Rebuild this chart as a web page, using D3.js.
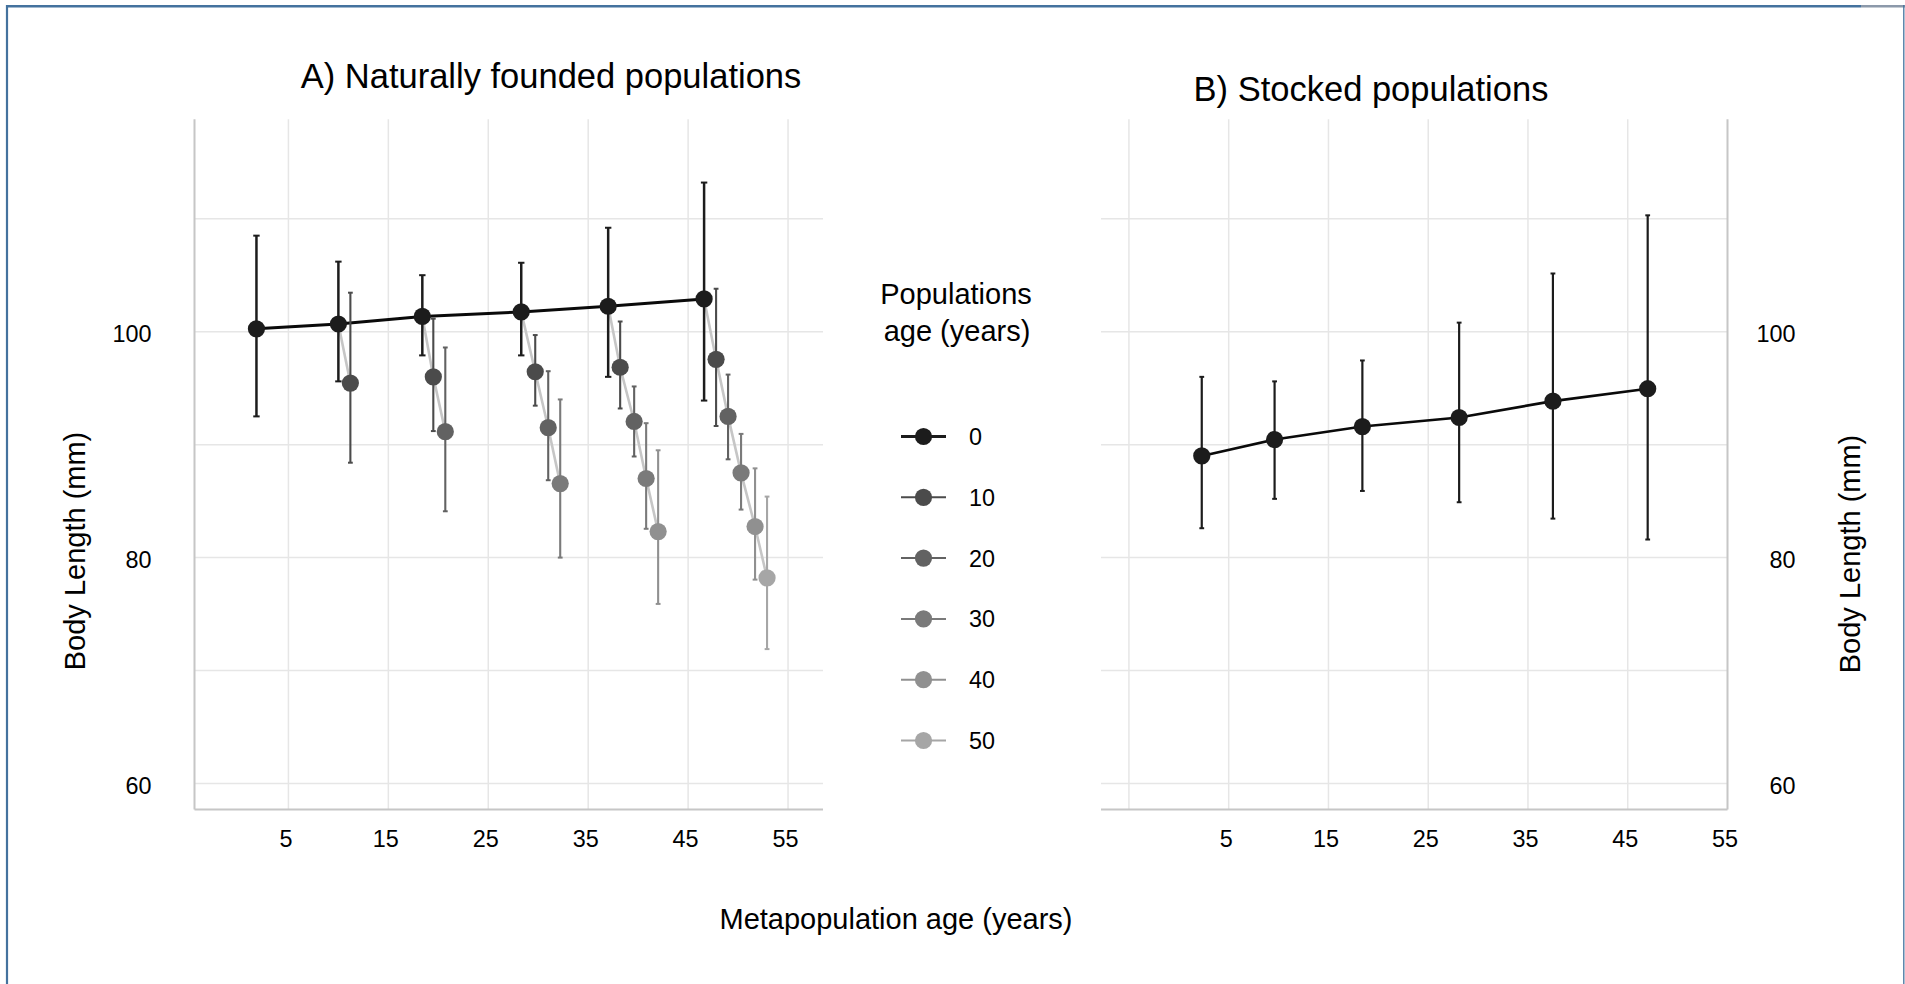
<!DOCTYPE html>
<html>
<head>
<meta charset="utf-8">
<script src="https://cdn.jsdelivr.net/npm/d3@7"></script>
<style>
  html, body { margin: 0; padding: 0; background: #ffffff; }
  svg { display: block; }
  text { font-family: "Liberation Sans", Arial, Helvetica, sans-serif; fill: #000; }
</style>
</head>
<body>
<svg id="chart" width="1905" height="984"></svg>
<script>
// ---- Data -------------------------------------------------------------
// Population age classes (legend) and their grey shades
const popAges = ["0", "10", "20", "30", "40", "50"];
const popColors = ["#1c1c1c", "#4b4b4b", "#626262", "#7a7a7a", "#909090", "#a6a6a6"];

// A) Naturally founded populations: one inner array per population age,
// ordered by metapopulation age group
const natX = [
  [1.8, 10.0, 18.4, 28.3, 37.0, 46.6],
  [11.2, 19.5, 29.7, 38.2, 47.8],
  [20.7, 31.0, 39.6, 49.0],
  [32.2, 40.8, 50.3],
  [42.0, 51.7],
  [52.9]
];
const natMean = [
  [100.25, 100.68, 101.35, 101.75, 102.25, 102.9],
  [95.45, 96.0, 96.45, 96.85, 97.55],
  [91.15, 91.5, 92.05, 92.5],
  [86.55, 87.0, 87.5],
  [82.3, 82.75],
  [78.2]
];
const natLow = [
  [92.5, 95.6, 97.9, 97.9, 96.0, 93.9],
  [88.4, 91.2, 93.45, 93.2, 91.65],
  [84.1, 86.85, 88.95, 88.7],
  [80.0, 82.55, 84.25],
  [75.9, 78.05],
  [71.9]
];
const natHigh = [
  [108.5, 106.2, 105.0, 106.1, 109.2, 113.2],
  [103.45, 101.15, 99.7, 100.9, 103.8],
  [98.6, 96.5, 95.15, 96.2],
  [94.0, 91.9, 90.95],
  [89.5, 87.9],
  [85.4]
];

// B) Stocked populations (population age 0 only)
const stockX = [2.3, 9.6, 18.4, 28.1, 37.5, 47.0];
const stockMean = [89.0, 90.45, 91.6, 92.4, 93.85, 94.95];
const stockLow = [82.6, 85.2, 85.9, 84.9, 83.45, 81.6];
const stockHigh = [96.0, 95.6, 97.45, 100.8, 105.15, 110.3];

// Axis ticks
const xTicks = [5, 15, 25, 35, 45, 55];
const xGridB = [-5, 5, 15, 25, 35, 45];
const yGrid = [60, 70, 80, 90, 100, 110];
const yTickLabels = [60, 80, 100];

// ---- Layout -----------------------------------------------------------
const svg = d3.select("#chart");
const FONT_TITLE = 34.5, FONT_AXIS = 29, FONT_TICK = 23.4;
const GRID = "#e6e6e6", AXIS = "#c6c6c6", CHAIN = "#c6c6c6";

const plotTop = 119.3, plotBottom = 809.5;
const y = d3.scaleLinear().domain([57.7, 118.8]).range([plotBottom, plotTop]);
const xA = d3.scaleLinear().domain([-4.4, 58.5]).range([194.5, 823]);
const xB = d3.scaleLinear().domain([-7.8, 55]).range([1101, 1727.5]);

// Frame around the figure
const frame = svg.append("g");
frame.append("line").attr("x1", 6).attr("x2", 1861).attr("y1", 6.2).attr("y2", 6.2)
  .attr("stroke", "#44729e").attr("stroke-width", 2.6);
frame.append("line").attr("x1", 1861).attr("x2", 1905).attr("y1", 6.2).attr("y2", 6.2)
  .attr("stroke", "#8c99aa").attr("stroke-width", 2.6);
frame.append("line").attr("x1", 7).attr("x2", 7).attr("y1", 5).attr("y2", 984)
  .attr("stroke", "#44729e").attr("stroke-width", 2.2);
frame.append("line").attr("x1", 1903.8).attr("x2", 1903.8).attr("y1", 5).attr("y2", 984)
  .attr("stroke", "#44729e").attr("stroke-width", 1.3);

// Gridlines for a panel
function drawGrid(x, xGridVals) {
  const g = svg.append("g");
  const [x0, x1] = x.range();
  g.selectAll("line.h").data(yGrid).join("line")
    .attr("x1", x0).attr("x2", x1)
    .attr("y1", d => y(d)).attr("y2", d => y(d))
    .attr("stroke", GRID).attr("stroke-width", 1.5);
  g.selectAll("line.v").data(xGridVals).join("line")
    .attr("x1", d => x(d)).attr("x2", d => x(d))
    .attr("y1", plotTop).attr("y2", plotBottom)
    .attr("stroke", GRID).attr("stroke-width", 1.5);
  return g;
}

// Bottom axis labels (no tick marks)
function drawXAxis(x) {
  const ax = svg.append("g")
    .attr("transform", `translate(0,${plotBottom})`)
    .call(d3.axisBottom(x).tickValues(xTicks).tickSize(0).tickPadding(21).tickFormat(d3.format("d")));
  ax.select(".domain").remove();
  ax.selectAll("text").attr("font-size", FONT_TICK).attr("fill", "#000")
    .attr("font-family", "'Liberation Sans', Arial, sans-serif").attr("dx", -3);
  svg.append("line").attr("x1", x.range()[0]).attr("x2", x.range()[1])
    .attr("y1", plotBottom).attr("y2", plotBottom)
    .attr("stroke", AXIS).attr("stroke-width", 2);
}

// Error bars + markers for one series
function drawSeries(x, xs, mean, lo, hi, color, barW, capHalf) {
  const g = svg.append("g");
  const idx = d3.range(xs.length);
  g.selectAll("line.bar").data(idx).join("line")
    .attr("x1", i => x(xs[i])).attr("x2", i => x(xs[i]))
    .attr("y1", i => y(lo[i])).attr("y2", i => y(hi[i]))
    .attr("stroke", color).attr("stroke-width", barW);
  ["lo", "hi"].forEach(k => {
    const arr = k === "lo" ? lo : hi;
    g.selectAll("line.cap" + k).data(idx).join("line")
      .attr("x1", i => x(xs[i]) - capHalf).attr("x2", i => x(xs[i]) + capHalf)
      .attr("y1", i => y(arr[i])).attr("y2", i => y(arr[i]))
      .attr("stroke", color).attr("stroke-width", 2);
  });
  g.selectAll("circle").data(idx).join("circle")
    .attr("cx", i => x(xs[i])).attr("cy", i => y(mean[i]))
    .attr("r", 8.6).attr("fill", color);
}

// ---- Panel A ----------------------------------------------------------
drawGrid(xA, xTicks);
svg.append("line").attr("x1", xA.range()[0]).attr("x2", xA.range()[0])
  .attr("y1", plotTop).attr("y2", plotBottom).attr("stroke", AXIS).attr("stroke-width", 2);
drawXAxis(xA);

const yAxL = svg.append("g").attr("transform", `translate(${xA.range()[0]},0)`)
  .call(d3.axisLeft(y).tickValues(yTickLabels).tickSize(0).tickPadding(43));
yAxL.select(".domain").remove();
yAxL.selectAll("text").attr("font-size", FONT_TICK).attr("fill", "#000")
  .attr("font-family", "'Liberation Sans', Arial, sans-serif").attr("dy", "0.44em");

const line = x => d3.line().x(p => x(p[0])).y(p => y(p[1]));

// Light grey links within each metapopulation age group
const chains = d3.range(1, natX[0].length).map(gi =>
  d3.range(0, gi + 1).map(s => [natX[s][gi - s], natMean[s][gi - s]]));
svg.append("g").selectAll("path").data(chains).join("path")
  .attr("d", line(xA)).attr("fill", "none")
  .attr("stroke", CHAIN).attr("stroke-width", 2.6);

// Population age 0 trend
svg.append("path")
  .datum(natX[0].map((v, i) => [v, natMean[0][i]]))
  .attr("d", line(xA)).attr("fill", "none")
  .attr("stroke", "#0a0a0a").attr("stroke-width", 3);

natX.forEach((xs, s) => {
  drawSeries(xA, xs, natMean[s], natLow[s], natHigh[s], popColors[s],
    s === 0 ? 2.5 : 2.1, s === 0 ? 3.2 : 2.4);
});

svg.append("text").attr("x", 551).attr("y", 88).attr("text-anchor", "middle")
  .attr("font-size", FONT_TITLE).text("A) Naturally founded populations");

// ---- Panel B ----------------------------------------------------------
drawGrid(xB, xGridB);
svg.append("line").attr("x1", xB.range()[1]).attr("x2", xB.range()[1])
  .attr("y1", plotTop).attr("y2", plotBottom).attr("stroke", AXIS).attr("stroke-width", 2);
drawXAxis(xB);

const yAxR = svg.append("g").attr("transform", `translate(${xB.range()[1]},0)`)
  .call(d3.axisRight(y).tickValues(yTickLabels).tickSize(0).tickPadding(68));
yAxR.select(".domain").remove();
yAxR.selectAll("text").attr("font-size", FONT_TICK).attr("fill", "#000")
  .attr("font-family", "'Liberation Sans', Arial, sans-serif").attr("dy", "0.44em")
  .attr("text-anchor", "end");

svg.append("path")
  .datum(stockX.map((v, i) => [v, stockMean[i]]))
  .attr("d", line(xB)).attr("fill", "none")
  .attr("stroke", "#0a0a0a").attr("stroke-width", 2.6);
drawSeries(xB, stockX, stockMean, stockLow, stockHigh, popColors[0], 2.2, 2.4);

svg.append("text").attr("x", 1371).attr("y", 101).attr("text-anchor", "middle")
  .attr("font-size", FONT_TITLE).text("B) Stocked populations");

// ---- Axis titles ------------------------------------------------------
svg.append("text").attr("text-anchor", "middle").attr("font-size", FONT_AXIS)
  .attr("transform", "translate(85,551) rotate(-90)").text("Body Length (mm)");
svg.append("text").attr("text-anchor", "middle").attr("font-size", FONT_AXIS)
  .attr("transform", "translate(1860,554) rotate(-90)").text("Body Length (mm)");
svg.append("text").attr("x", 896).attr("y", 929).attr("text-anchor", "middle")
  .attr("font-size", FONT_AXIS).text("Metapopulation age (years)");

// ---- Legend -----------------------------------------------------------
const legend = svg.append("g");
legend.append("text").attr("x", 956).attr("y", 304).attr("text-anchor", "middle")
  .attr("font-size", FONT_AXIS).text("Populations");
legend.append("text").attr("x", 957).attr("y", 341).attr("text-anchor", "middle")
  .attr("font-size", FONT_AXIS).text("age (years)");

const legY = d3.scalePoint().domain(popAges).range([436.5, 740.5]);
const items = legend.selectAll("g.item").data(popAges).join("g")
  .attr("transform", d => `translate(0,${legY(d)})`);
items.append("line").attr("x1", 901).attr("x2", 946).attr("y1", 0).attr("y2", 0)
  .attr("stroke", (d, i) => popColors[i]).attr("stroke-width", (d, i) => i === 0 ? 3 : 2);
items.append("circle").attr("cx", 923.5).attr("cy", 0).attr("r", 8.6)
  .attr("fill", (d, i) => popColors[i]);
items.append("text").attr("x", 969).attr("y", 0).attr("dy", "0.36em")
  .attr("font-size", FONT_TICK).text(d => d);
</script>
</body>
</html>
